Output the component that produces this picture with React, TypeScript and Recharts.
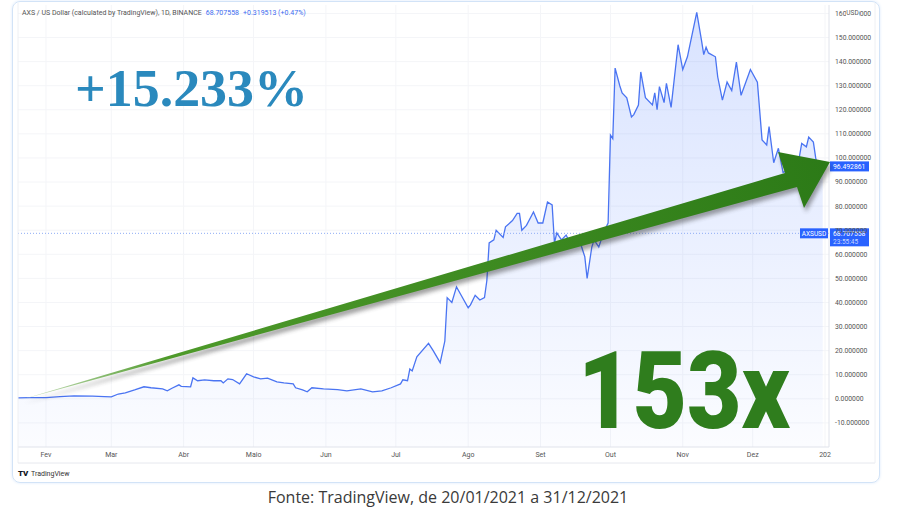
import { ComposedChart, Area, XAxis, YAxis, CartesianGrid, ReferenceLine } from "recharts";

// day of year (0 = 1 Jan 2021) and AXS close
const days = [
  19, 24, 31, 37, 43, 51, 56, 59, 62, 65, 69, 73, 76, 81, 83, 85, 88, 89, 93, 94,
  96, 99, 103, 106, 107, 109, 111, 114, 117, 120, 123, 126, 130, 133, 137, 138, 141, 143, 145, 150,
  156, 160, 166, 171, 175, 179, 183, 184, 186, 187, 188, 190, 195, 197, 200, 202, 203, 205, 207, 209,
  212, 213, 215, 217, 219, 220, 221, 223, 224, 227, 228, 231, 233, 234, 235, 237, 240, 242, 244, 246,
  248, 249, 250, 252, 254, 255, 257, 260, 262, 263, 265, 266, 268, 270, 272, 273, 274, 275, 277, 278,
  280, 282, 283, 285, 286, 288, 291, 292, 293, 294, 296, 297, 299, 302, 304, 306, 310, 312, 313, 314,
  315, 318, 319, 321, 323, 325, 327, 329, 333, 336, 338, 340, 341, 343, 345, 347, 350, 353, 355, 357,
  358, 360, 361, 362, 364,
];
const prices = [
  0.4, 0.5, 0.5, 0.9, 1.2, 1.1, 0.9, 0.8, 2.0, 2.5, 3.7, 5.0, 4.6, 4.1, 3.3, 4.4, 5.8, 5.2, 5.0, 8.7,
  7.5, 7.9, 7.5, 7.5, 6.6, 8.3, 8.0, 6.2, 10.4, 9.1, 8.3, 8.6, 7.0, 6.6, 6.2, 4.6, 3.7, 2.9, 4.6, 4.1,
  3.8, 3.3, 4.1, 2.9, 3.3, 4.6, 6.2, 7.9, 7.5, 12.4, 11.6, 17.4, 23, 20, 15, 24, 42, 40, 46.5, 43,
  37.8, 39, 43, 41, 42, 49, 64.7, 66, 70, 67, 71.4, 74, 77, 77, 70, 72, 77.6, 73, 73, 81.7,
  80.5, 64.7, 68.9, 66, 68, 66, 67, 65, 59, 50, 63, 66, 63, 68.9, 73, 109.5, 108, 137.3, 130, 127,
  125, 117, 118, 122, 135.7, 125, 122, 127, 120, 129.6, 123, 131, 121, 147, 136.7, 142, 160.4, 149, 142.9, 146,
  143.6, 142, 133.6, 124, 131.5, 128, 139.8, 126, 136.7, 131.5, 107.5, 105.4, 113, 98, 104, 94, 95, 95, 106, 104.6,
  108.7, 106.6, 100, 95, 96.5,
];

const monthTicks = [31, 59, 90, 120, 151, 181, 212, 243, 273, 304, 334, 365];
const monthLabels = ["Fev", "Mar", "Abr", "Maio", "Jun", "Jul", "Ago", "Set", "Out", "Nov", "Dez", "202"];
const priceTicks = [-10, 0, 10, 20, 30, 40, 50, 60, 70, 80, 90, 100, 110, 120, 130, 140, 150, 160];

const lastClose = 96.492861;
const currentPrice = 68.707558;

const data = days.map((day, i) => ({ day, price: prices[i] }));

const TV_BLUE = "#2962ff";
const smallFont = "Roboto, 'DejaVu Sans', sans-serif";

const PriceTag = ({ viewBox, value, sub, symbol }: any) => {
  if (!viewBox) return null;
  const right = viewBox.x + viewBox.width;
  const y = viewBox.y;
  const h = sub ? 18 : 10;
  return (
    <g>
      {symbol && (
        <g>
          <rect x={right - 29} y={y - 5} width={28} height={10} fill={TV_BLUE} />
          <text x={right - 15} y={y + 2.5} fill="#fff" fontSize={6.5} textAnchor="middle" fontFamily={smallFont}>
            {symbol}
          </text>
        </g>
      )}
      <rect x={right + 1} y={y - 5} width={39} height={h} fill={TV_BLUE} />
      <text x={right + 4} y={y + 2.5} fill="#fff" fontSize={6.8} fontFamily={smallFont}>
        {value}
      </text>
      {sub && (
        <text x={right + 4} y={y + 10.5} fill="#c9d6ff" fontSize={6.5} fontFamily={smallFont}>
          {sub}
        </text>
      )}
    </g>
  );
};

export default function App() {
  return (
    <div style={{ position: "absolute", left: 0, top: 0, width: 897, height: 523, background: "#fff" }}>
      <div
        style={{
          position: "absolute",
          left: 12,
          top: 1,
          width: 866,
          height: 480,
          border: "1px solid #d2e3f7",
          borderRadius: 8,
          boxShadow: "0 0 3px #dbe9fb",
        }}
      />
      <div style={{ position: "absolute", left: 0, top: 0 }}>
        <ComposedChart width={897} height={523} data={data} margin={{ top: 5, right: 28, left: 18, bottom: 60 }}>
          <defs>
            <linearGradient id="axsFill" x1="0" y1="0" x2="0" y2="1">
              <stop offset="0%" stopColor={TV_BLUE} stopOpacity={0.3} />
              <stop offset="100%" stopColor={TV_BLUE} stopOpacity={0.03} />
            </linearGradient>
          </defs>
          <CartesianGrid stroke="#f4f5f8" horizontalValues={priceTicks} verticalValues={monthTicks} />
          <XAxis
            dataKey="day"
            type="number"
            domain={[19, 366.7]}
            ticks={monthTicks}
            tickFormatter={(v) => monthLabels[monthTicks.indexOf(v)] ?? ""}
            tick={{ fontSize: 7, fill: "#555", fontFamily: smallFont }}
            tickLine={false}
            tickSize={3}
            tickMargin={2}
            axisLine={{ stroke: "#e0e3eb" }}
            height={16}
            allowDataOverflow
            interval={0}
          />
          <YAxis
            orientation="right"
            domain={[-20, 163.5]}
            ticks={priceTicks}
            tickFormatter={(v) => Number(v).toFixed(6)}
            tick={{ fontSize: 6.8, fill: "#555", fontFamily: smallFont }}
            tickLine={false}
            tickSize={4}
            tickMargin={2}
            axisLine={{ stroke: "#e0e3eb" }}
            width={40}
            allowDataOverflow
            interval={0}
          />
          <Area
            type="linear"
            dataKey="price"
            stroke="#4a74f2"
            strokeWidth={1.3}
            fill="url(#axsFill)"
            baseValue="dataMin"
            dot={false}
            activeDot={false}
            isAnimationActive={false}
          />
          <ReferenceLine
            y={currentPrice}
            stroke="#8fadf5"
            strokeDasharray="1 2"
            label={(p: any) => <PriceTag {...p} value="68.707558" sub="23:55:45" symbol="AXSUSD" />}
          />
          <ReferenceLine
            y={lastClose}
            stroke="none"
            label={(p: any) => <PriceTag {...p} value="96.492861" />}
          />
        </ComposedChart>
      </div>
      <svg width={897} height={523} style={{ position: "absolute", left: 0, top: 0, pointerEvents: "none" }}>
        <defs>
          <linearGradient id="arrowFill" x1="20" y1="400" x2="830" y2="160" gradientUnits="userSpaceOnUse">
            <stop offset="0%" stopColor="#cfe3c4" />
            <stop offset="18%" stopColor="#4e9a2a" />
            <stop offset="100%" stopColor="#2c7a17" />
          </linearGradient>
          <filter id="arrowShadow" x="-5%" y="-20%" width="110%" height="140%">
            <feGaussianBlur stdDeviation="2" />
          </filter>
        </defs>
        {/* chart frame lines */}
        <line x1={18} y1={3} x2={18} y2={463} stroke="#eef0f4" />
        <line x1={18} y1={463} x2={875} y2={463} stroke="#e6e8ee" />
        <line x1={875} y1={3} x2={875} y2={463} stroke="#eef0f4" />

        <text x={22} y={14.5} fontSize={7} fill="#555" fontFamily={smallFont}>
          AXS / US Dollar (calculated by TradingView), 1D, BINANCE
          <tspan fill="#3d6cf0" dx={4}>68.707558</tspan>
          <tspan fill="#3d6cf0" dx={4}>+0.319513 (+0.47%)</tspan>
        </text>
        <rect x={846} y={8} width={13} height={9} fill="#fff" />
        <text x={852.5} y={15} fontSize={6.5} fill="#555" textAnchor="middle" fontFamily={smallFont}>
          USD
        </text>

        {/* big annotation arrow */}
        <g transform="translate(2,4)" opacity={0.45} filter="url(#arrowShadow)">
          <polygon points="20,400 785,173 778,152 830,162 804,208 797,187" fill="#333" />
        </g>
        <polygon points="20,400 785,173 778,152 830,162 804,208 797,187" fill="url(#arrowFill)" />

        <text
          x={75}
          y={106}
          fontSize={52}
          fontWeight={700}
          fill="#2a89bd"
          fontFamily="'Liberation Serif', 'DejaVu Serif', serif"
          textLength={233}
          lengthAdjust="spacingAndGlyphs"
        >
          +15.233%
        </text>
        <text
          x={578}
          y={428}
          fontSize={108}
          fontWeight={900}
          fill="#2f7d1d"
          fontFamily="Roboto, Inter, 'Liberation Sans', sans-serif"
          textLength={212}
          lengthAdjust="spacingAndGlyphs"
        >
          153x
        </text>

        <text x={18} y={476} fontSize={8} fontWeight={900} fill="#131722" fontFamily={smallFont}>
          TV
        </text>
        <text x={31} y={476} fontSize={7} fill="#333" fontFamily={smallFont}>
          TradingView
        </text>

        <text x={448} y={503} fontSize={16} fill="#3a3a3a" textAnchor="middle" fontFamily="'Open Sans', sans-serif">
          Fonte: TradingView, de 20/01/2021 a 31/12/2021
        </text>
      </svg>
    </div>
  );
}
